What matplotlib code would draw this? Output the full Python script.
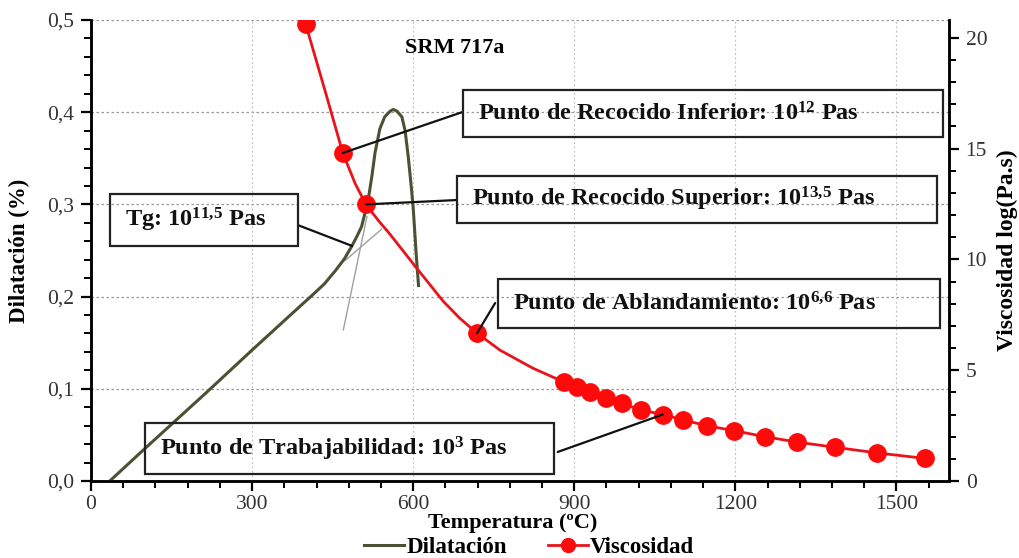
import matplotlib
matplotlib.use("Agg")
import matplotlib.pyplot as plt
from matplotlib.patches import Rectangle
from matplotlib.ticker import MultipleLocator, FuncFormatter
from matplotlib.lines import Line2D

plt.rcParams['font.family'] = ['Liberation Serif', 'DejaVu Serif']
plt.rcParams['mathtext.fontset'] = 'custom'
plt.rcParams['mathtext.rm'] = 'Liberation Serif:bold'
plt.rcParams['mathtext.bf'] = 'Liberation Serif:bold'
plt.rcParams['mathtext.it'] = 'Liberation Serif:bold'

# ---- data ----
dil_T = [35, 100, 215, 300, 377, 413, 435, 455, 472, 486, 495, 504, 516, 523, 529, 538, 547, 557,
         563, 570, 579, 585, 591, 596, 600, 606, 610]
dil_v = [0.0, 0.035, 0.096, 0.142, 0.183, 0.202, 0.214, 0.228, 0.241, 0.255, 0.265, 0.276, 0.304,
         0.330, 0.356, 0.382, 0.395, 0.401, 0.403, 0.401, 0.395, 0.380, 0.351, 0.322, 0.297,
         0.243, 0.212]

tanA_T = [470, 514]
tanA_v = [0.164, 0.287]
tanB_T = [473, 541]
tanB_v = [0.239, 0.273]

# viscosity curve trace (line) and measured points (markers)
visc_line_T = [400, 436, 469, 492, 512, 535, 557, 607, 656, 687, 719, 762, 823, 873, 881, 905, 929,
               960, 989, 1024, 1065, 1103, 1148, 1198, 1255, 1314, 1386, 1463, 1553]
visc_line_v = [20.6, 17.6, 14.8, 13.42, 12.48, 11.76, 11.13, 9.59, 8.11, 7.34, 6.67, 5.9, 5.09,
               4.55, 4.47, 4.25, 4.0, 3.73, 3.5, 3.2, 3.0, 2.75, 2.49, 2.27, 2.0, 1.76, 1.52,
               1.27, 1.02]
visc_T = [400, 469, 512, 719, 881, 905, 929, 960, 989, 1024, 1065, 1103, 1148, 1198, 1255, 1314,
          1386, 1463, 1553]
visc_v = [20.6, 14.8, 12.48, 6.67, 4.47, 4.25, 4.0, 3.73, 3.5, 3.2, 3.0, 2.75, 2.49, 2.27, 2.0,
          1.76, 1.52, 1.27, 1.02]

tg_point = (486, 0.255)

olive = '#4b5233'
red = '#ff0a0a'
redline = '#e8141c'

fig = plt.figure(figsize=(10.2, 5.58), dpi=100)
ax = fig.add_axes([91/1020, 1-481/558, 858/1020, 461/558])
ax2 = ax.twinx()

ax.set_xlim(0, 1598)
ax.set_ylim(0, 0.5)
ax2.set_ylim(0, 20.8)

# grid
for gy in [0.1, 0.2, 0.3, 0.4, 0.5]:
    ax.axhline(gy, color='#999999', lw=0.9, ls=(0, (2, 2)), zorder=0)
for gx in [300, 600, 900, 1200, 1500]:
    ax.axvline(gx, color='#bbbbbb', lw=0.8, ls=(0, (1.5, 2.5)), zorder=0)

ax.plot(tanA_T, tanA_v, color='#a0a0a0', lw=1.0, zorder=2)
ax.plot(tanB_T, tanB_v, color='#a0a0a0', lw=1.0, zorder=2)
ax.plot(dil_T, dil_v, color=olive, lw=2.2, zorder=3, solid_joinstyle='round')

ax2.plot(visc_line_T, visc_line_v, color=redline, lw=2.0, zorder=3, solid_joinstyle='round')
ax2.plot(visc_T, visc_v, 'o', color=red, ms=12.5, mec=red, zorder=4)

# ticks
ax.xaxis.set_major_locator(MultipleLocator(300))
ax.xaxis.set_minor_locator(MultipleLocator(60))
ax.yaxis.set_major_locator(MultipleLocator(0.1))
ax.yaxis.set_minor_locator(MultipleLocator(0.02))
ax2.yaxis.set_major_locator(MultipleLocator(5))
ax2.yaxis.set_minor_locator(MultipleLocator(1))
ax.yaxis.set_major_formatter(FuncFormatter(lambda v, p: f"{v:.1f}".replace('.', ',')))
ax.xaxis.set_major_formatter(FuncFormatter(lambda v, p: f"{int(round(v))}"))
ax2.yaxis.set_major_formatter(FuncFormatter(lambda v, p: f"{int(round(v))}"))

for a in (ax, ax2):
    a.tick_params(which='major', direction='out', length=7, width=1.6, labelsize=15.5,
                  labelcolor='#333333', pad=5)
    a.tick_params(which='minor', direction='out', length=5, width=1.4)
    for s in a.spines.values():
        s.set_linewidth(1.8)
ax.tick_params(axis='x', pad=3)
ax.spines['top'].set_visible(False)
ax2.spines['top'].set_visible(False)

ax.set_ylabel('Dilatación (%)', fontsize=16.5, fontweight='bold', va='center')
ax.yaxis.set_label_coords(-0.083, 0.5)
ax2.set_ylabel('Viscosidad log(Pa.s)', fontsize=17, fontweight='bold', va='center', rotation=90)
ax2.yaxis.set_label_coords(1.0676, 0.5)
ax.set_xlabel('Temperatura (ºC)', fontsize=16, fontweight='bold', va='center')
ax.xaxis.set_label_coords(0.492, -0.092)

# title text
ax.text(0.424, 0.939, 'SRM 717a', transform=ax.transAxes, fontsize=16, fontweight='bold',
        ha='center', va='center')

# annotation boxes (axes fraction)
boxes = [
    ((0.4336, 0.746, 0.5594, 0.102), 'Punto de Recocido Inferior: 10$^{12}$ Pas'),
    ((0.4266, 0.560, 0.5594, 0.102), 'Punto de Recocido Superior: 10$^{13{,}5}$ Pas'),
    ((0.0221, 0.510, 0.2192, 0.113), 'Tg: 10$^{11{,}5}$ Pas'),
    ((0.4744, 0.332, 0.5151, 0.106), 'Punto de Ablandamiento: 10$^{6{,}6}$ Pas'),
    ((0.0629, 0.015, 0.4767, 0.111), 'Punto de Trabajabilidad: 10$^{3}$ Pas'),
]
for (bx, by, bw, bh), txt in boxes:
    ax2.add_patch(Rectangle((bx, by), bw, bh, transform=ax.transAxes, facecolor='none',
                            edgecolor='#222222', lw=1.6, zorder=6))
    ax2.text(bx + 0.017, by + bh/2, txt, transform=ax.transAxes, fontsize=17.5,
             fontweight='bold', ha='left', va='center', zorder=7, color='#111111')

# leader lines
leaders = [
    ((0.4324, 0.800), (visc_T[1], visc_v[1]), ax2),
    ((0.4266, 0.6095), (visc_T[2], visc_v[2]), ax2),
    ((0.4710, 0.386), (visc_T[3], visc_v[3]), ax2),
    ((0.5440, 0.063), (visc_T[10], visc_v[10]), ax2),
    ((0.2413, 0.555), tg_point, ax),
]
for start, end, a in leaders:
    a.annotate('', xy=end, xycoords='data', xytext=start, textcoords=ax.transAxes,
               arrowprops=dict(arrowstyle='-', color='#111111', lw=1.6,
                               shrinkA=0, shrinkB=0), zorder=5)

# legend
handles = [Line2D([], [], color=olive, lw=2.2),
           Line2D([], [], color=redline, lw=2.0, marker='o', ms=10, mfc=red, mec=red)]
fig.legend(handles, ['Dilatación', 'Viscosidad'], loc='center', bbox_to_anchor=(529/1020, 1-547/558),
           ncol=2, frameon=False, handlelength=1.75, handletextpad=0.1, columnspacing=1.8,
           borderpad=0.1, prop={'family': 'Liberation Serif', 'weight': 'bold', 'size': 16.5})

fig.savefig('out.png', dpi=100)
